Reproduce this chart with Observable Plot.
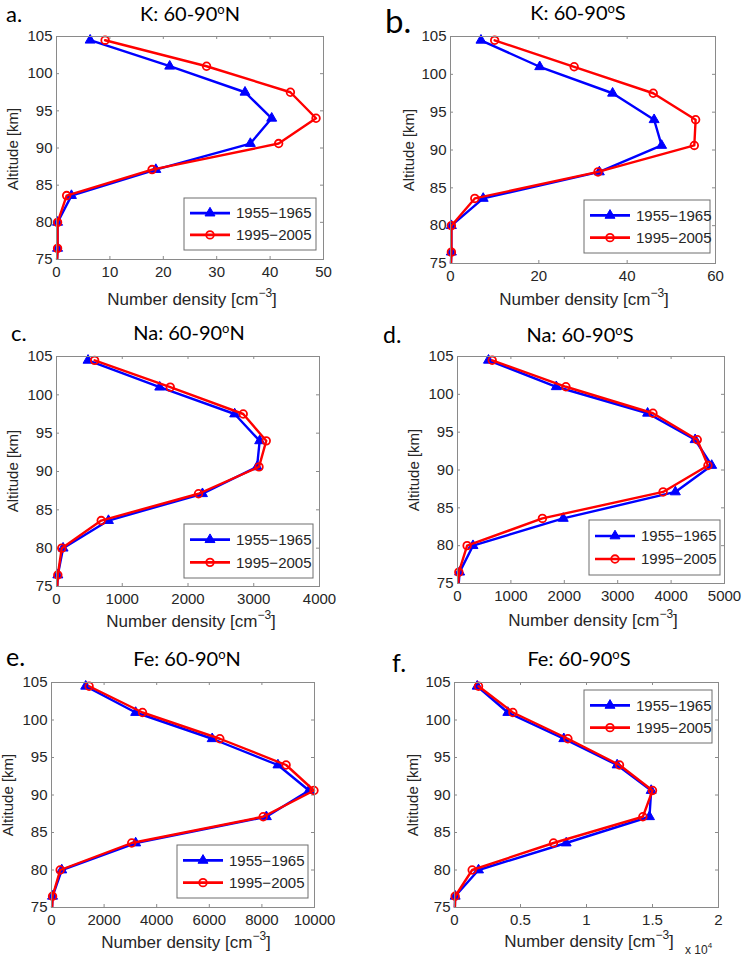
<!DOCTYPE html>
<html>
<head>
<meta charset="utf-8">
<script src="https://cdn.jsdelivr.net/npm/d3@7"></script>
<script src="https://cdn.jsdelivr.net/npm/@observablehq/plot@0.6"></script>
<style>
  html, body { margin: 0; padding: 0; background: #fff; }
  #chart { position: relative; width: 742px; height: 960px; background: #fff; overflow: hidden; }
  .cell { position: absolute; width: 371px; height: 320px; }
  .cell svg { position: absolute; left: 0; top: 0; overflow: visible; }
</style>
</head>
<body>
<div id="chart"></div>
<script>
// ---------------- data ----------------
const altitude = [104.5, 101, 97.5, 94, 90.6, 87.1, 83.6, 80, 76.5, 73];
const periods = ["1955\u22121965", "1995\u22122005"];
const yTicks = [75, 80, 85, 90, 95, 100, 105];

const kNorth1955 = [6.3, 21.2, 35.3, 40.3, 36.3, 18.6, 2.8, 0.2, 0.2, 0];
const kNorth1995 = [9.1, 28.1, 43.8, 48.6, 41.6, 17.9, 1.9, 0.2, 0.2, 0];
const kSouth1955 = [6.9, 20.2, 36.7, 46.1, 47.8, 33.7, 7.4, 0.2, 0.2, 0];
const kSouth1995 = [10.0, 28.0, 45.9, 55.5, 55.2, 33.4, 5.5, 0.2, 0.2, 0];
const naNorth1955 = [480, 1570, 2710, 3090, 3050, 2220, 790, 100, 20, 0];
const naNorth1995 = [580, 1730, 2840, 3190, 3080, 2160, 680, 80, 20, 0];
const naSouth1955 = [580, 1850, 3560, 4450, 4760, 4080, 1980, 290, 40, 0];
const naSouth1995 = [650, 2030, 3660, 4490, 4690, 3850, 1590, 180, 25, 0];
const feNorth1955 = [1300, 3200, 6110, 8610, 9790, 8170, 3200, 390, 40, 0];
const feNorth1995 = [1430, 3460, 6400, 8920, 9980, 8050, 3050, 330, 40, 0];
const feSouth1955 = [1720, 4040, 8280, 12320, 14900, 14770, 8460, 1820, 50, 0];
const feSouth1995 = [1820, 4420, 8590, 12500, 15000, 14270, 7500, 1340, 50, 0];

const xTicksKNorth = [0, 10, 20, 30, 40, 50];
const xTicksKSouth = [0, 20, 40, 60];
const xTicksNaNorth = [0, 1000, 2000, 3000, 4000];
const xTicksNaSouth = [0, 1000, 2000, 3000, 4000, 5000];
const xTicksFeNorth = [0, 2000, 4000, 6000, 8000, 10000];
const xTicksFeSouth = [0, 5000, 10000, 15000, 20000];

const panelLetters = ["a.", "b.", "c.", "d.", "e.", "f."];
const panelElements = ["K", "K", "Na", "Na", "Fe", "Fe"];
const panelHemispheres = ["N", "S", "N", "S", "N", "S"];

// ---------------- layout ----------------
const BLUE = "#0000ff", RED = "#ff0000", GRAY = "#8a8a8a", TXT = "#262626";
const panels = [
  {s1: kNorth1955, s2: kNorth1995, ticks: xTicksKNorth, fmt: d => String(d),
   cx: 0, cy: 0, ml: 56, mr: 48, mt: 36, mb: 61,
   letter: {x: 6, y: 21.8, size: 22}, title: {x: 190, y: 21},
   ylab: {x: 18, y: 149}, xlab: {x: 192, y: 305}, leg: {x: 184, y: 198, w: 132, h: 52}},
  {s1: kSouth1955, s2: kSouth1995, ticks: xTicksKSouth, fmt: d => String(d),
   cx: 371, cy: 0, ml: 79, mr: 27, mt: 36, mb: 57,
   letter: {x: 14, y: 33, size: 33}, title: {x: 207, y: 20},
   ylab: {x: 43, y: 150}, xlab: {x: 213, y: 305}, leg: {x: 213, y: 200, w: 126, h: 53}},
  {s1: naNorth1955, s2: naNorth1995, ticks: xTicksNaNorth, fmt: d => String(d),
   cx: 0, cy: 320, ml: 56, mr: 52, mt: 36, mb: 54,
   letter: {x: 11, y: 21, size: 22}, title: {x: 189, y: 20},
   ylab: {x: 18, y: 151}, xlab: {x: 191, y: 307}, leg: {x: 184, y: 204, w: 129, h: 54}},
  {s1: naSouth1955, s2: naSouth1995, ticks: xTicksNaSouth, fmt: d => String(d),
   cx: 371, cy: 320, ml: 86, mr: 18, mt: 36, mb: 57,
   letter: {x: 12, y: 23, size: 23}, title: {x: 209, y: 22},
   ylab: {x: 48, y: 150}, xlab: {x: 222, y: 306}, leg: {x: 218, y: 200, w: 131, h: 55}},
  {s1: feNorth1955, s2: feNorth1995, ticks: xTicksFeNorth, fmt: d => String(d),
   cx: 0, cy: 640, ml: 51, mr: 57, mt: 42, mb: 53,
   letter: {x: 6, y: 26, size: 25}, title: {x: 187, y: 26},
   ylab: {x: 13, y: 155}, xlab: {x: 186, y: 308}, leg: {x: 177, y: 205, w: 131, h: 53}},
  {s1: feSouth1955, s2: feSouth1995, ticks: xTicksFeSouth, fmt: d => String(d / 1e4),
   cx: 371, cy: 640, ml: 83, mr: 24, mt: 42, mb: 53,
   letter: {x: 21, y: 32, size: 25}, title: {x: 208, y: 26},
   ylab: {x: 47, y: 155}, xlab: {x: 218, y: 307}, leg: {x: 213, y: 50, w: 128, h: 53},
   exponent: {x: 314, y: 314}}
];

const W = 371, H = 320;
const FONT = "'Liberation Sans', Arial, sans-serif";
const TFONT = "Lato, 'Open Sans', sans-serif";
const chart = document.getElementById("chart");

panels.forEach((p, i) => {
  const rows = altitude.map((a, j) => ({alt: a, v1: p.s1[j], v2: p.s2[j]}));
  const visible = d => d.alt >= 75;
  const fw = W - p.ml - p.mr, fh = H - p.mt - p.mb;
  const xDomain = [p.ticks[0], p.ticks[p.ticks.length - 1]];

  const svg = Plot.plot({
    width: W, height: H,
    marginLeft: p.ml, marginRight: p.mr, marginTop: p.mt, marginBottom: p.mb,
    style: {fontFamily: FONT, fontSize: "15px", color: TXT, background: "transparent"},
    x: {domain: xDomain},
    y: {domain: [75, 105]},
    marks: [
      Plot.axisX(p.ticks, {tickSize: 0, tickPadding: 7, tickFormat: p.fmt, label: null, fill: TXT}),
      Plot.axisY(yTicks, {tickSize: 0, tickPadding: 4, label: null, fill: TXT}),
      Plot.tickX(p.ticks, {x: d => d, insetTop: fh - 3, stroke: GRAY}),
      Plot.tickX(p.ticks, {x: d => d, insetBottom: fh - 3, stroke: GRAY}),
      Plot.tickY(yTicks, {y: d => d, insetRight: fw - 3, stroke: GRAY}),
      Plot.tickY(yTicks, {y: d => d, insetLeft: fw - 3, stroke: GRAY}),
      Plot.line(rows, {x: "v1", y: "alt", stroke: BLUE, strokeWidth: 2.4}),
      Plot.dot(rows, {x: "v1", y: "alt", filter: visible, symbol: "triangle", fill: BLUE, stroke: BLUE, strokeWidth: 1, r: 3.7}),
      Plot.line(rows, {x: "v2", y: "alt", stroke: RED, strokeWidth: 2.4}),
      Plot.dot(rows, {x: "v2", y: "alt", filter: visible, symbol: "circle", fill: "none", stroke: RED, strokeWidth: 1.8, r: 3.8}),
      Plot.frame({stroke: GRAY})
    ]
  });

  const cell = document.createElement("div");
  cell.className = "cell";
  cell.style.left = p.cx + "px";
  cell.style.top = p.cy + "px";
  cell.appendChild(svg);
  chart.appendChild(cell);

  const s = d3.select(svg);
  // vertical clip for the lines only (line may run below the 75 km axis limit)
  const clipId = "vclip" + i;
  s.append("defs").append("clipPath").attr("id", clipId)
    .append("rect").attr("x", 0).attr("y", p.mt).attr("width", W).attr("height", fh);
  s.selectAll("g[aria-label='line']").attr("clip-path", `url(#${clipId})`);

  // panel letter
  s.append("text").attr("x", p.letter.x).attr("y", p.letter.y)
    .attr("text-anchor", "start")
    .attr("font-family", TFONT).attr("font-size", p.letter.size)
    .attr("fill", "#000").text(panelLetters[i]);

  // title
  const t = s.append("text").attr("x", p.title.x).attr("y", p.title.y)
    .attr("text-anchor", "middle").attr("font-family", TFONT)
    .attr("font-size", 20).attr("fill", "#000");
  t.append("tspan").text(`${panelElements[i]}: 60-90`);
  t.append("tspan").attr("font-size", 13).attr("dy", -7).text("o");
  t.append("tspan").attr("dy", 7).text(panelHemispheres[i]);

  // y label
  s.append("text").attr("transform", `translate(${p.ylab.x},${p.ylab.y}) rotate(-90)`)
    .attr("text-anchor", "middle").attr("font-family", FONT)
    .attr("font-size", 15).attr("fill", TXT).text("Altitude [km]");

  // x label
  const xl = s.append("text").attr("x", p.xlab.x).attr("y", p.xlab.y)
    .attr("text-anchor", "middle").attr("font-family", FONT)
    .attr("font-size", 17).attr("fill", TXT);
  xl.append("tspan").text("Number density [cm");
  xl.append("tspan").attr("font-size", 12).attr("dy", -8).text("\u22123");
  xl.append("tspan").attr("dy", 8).text("]");

  if (p.exponent) {
    const ex = s.append("text").attr("x", p.exponent.x).attr("y", p.exponent.y)
      .attr("text-anchor", "start")
      .attr("font-family", FONT).attr("font-size", 12).attr("fill", TXT);
    ex.append("tspan").text("x 10");
    ex.append("tspan").attr("font-size", 8).attr("dy", -6).text("4");
  }

  // legend
  const L = p.leg;
  const lg = s.append("g");
  lg.append("rect").attr("x", L.x).attr("y", L.y).attr("width", L.w).attr("height", L.h)
    .attr("fill", "#fff").attr("stroke", "#6e6e6e").attr("stroke-width", 1);
  const rowsY = [L.y + L.h * 0.29, L.y + L.h * 0.71];
  const colors = [BLUE, RED];
  rowsY.forEach((ry, k) => {
    lg.append("line").attr("x1", L.x + 6).attr("x2", L.x + 46).attr("y1", ry).attr("y2", ry)
      .attr("stroke", colors[k]).attr("stroke-width", 2.6);
    if (k === 0) {
      lg.append("path").attr("d", d3.symbol(d3.symbolTriangle, Math.PI * 3.7 * 3.7)())
        .attr("transform", `translate(${L.x + 26},${ry})`).attr("fill", BLUE).attr("stroke", BLUE);
    } else {
      lg.append("circle").attr("cx", L.x + 26).attr("cy", ry).attr("r", 3.8)
        .attr("fill", "none").attr("stroke", RED).attr("stroke-width", 1.8);
    }
    lg.append("text").attr("x", L.x + 52).attr("y", ry).attr("dy", "0.35em")
      .attr("text-anchor", "start")
      .attr("font-family", FONT).attr("font-size", 15)
      .attr("fill", TXT).text(periods[k]);
  });
});
</script>
</body>
</html>
